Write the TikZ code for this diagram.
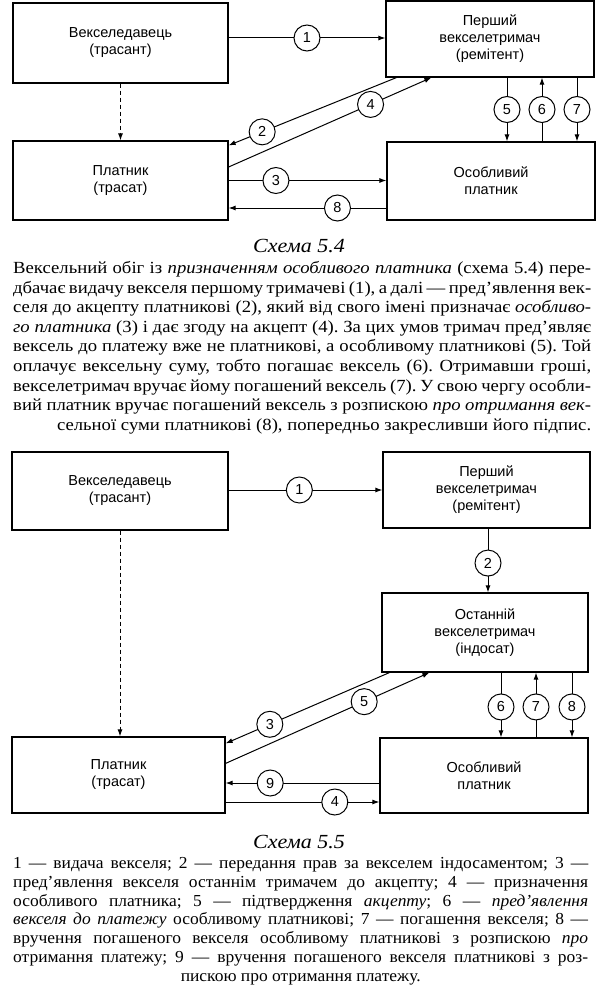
\documentclass[tikz,border=0pt]{standalone}
\usepackage{fontspec}
\setmainfont{Liberation Serif}
\setsansfont{Liberation Sans}
\newfontfamily\bodyfont[FakeStretch=1.1]{Liberation Serif}
\newfontfamily\notefont[FakeStretch=1.04]{Liberation Serif}
\usetikzlibrary{arrows.meta}

\begin{document}
\begin{tikzpicture}[x=1pt,y=-1pt,
    box/.style={draw,line width=1.2pt,align=center,inner sep=0pt,
      font=\sffamily\fontsize{14.5}{17}\selectfont},
    num/.style={draw,circle,fill=white,line width=1pt,minimum size=26pt,
      inner sep=0pt,font=\sffamily\fontsize{14.5}{14.5}\selectfont},
    arr/.style={line width=1pt,-{Latex[length=7pt,width=5pt]}},
    capt/.style={font=\bodyfont\itshape\fontsize{20}{20}\selectfont},
    txt/.style={anchor=base west,inner sep=0pt,text width=578pt,align=justify,
      font=\bodyfont\fontsize{17}{19.6}\selectfont\frenchspacing}]
  \useasboundingbox[fill=white] (0,0) rectangle (598,990);

  % Схема 5.4
  \node[box,minimum width=215pt,minimum height=80pt] (drawerA) at (120.5,43) {Векселедавець\\(трасант)};
  \node[box,minimum width=215pt,minimum height=79pt] (payerA) at (120.5,180.5) {Платник\\(трасат)};
  \node[box,minimum width=208pt,minimum height=76pt] (firstA) at (490,39) {Перший\\векселетримач\\(ремітент)};
  \node[box,minimum width=208pt,minimum height=78pt] (specialA) at (491,181) {Особливий\\платник};

  \draw[arr,dash pattern=on 4pt off 3pt] (drawerA.south) -- (drawerA.south |- payerA.north);
  \draw[arr] ([yshift=5pt]drawerA.east) -- node[num,pos=0.5] {1} ([yshift=5pt]drawerA.east -| firstA.west);
  \draw[arr] ([xshift=11pt]firstA.south west) -- node[num,pos=0.8] {2} ([yshift=-5pt]payerA.north east);
  \draw[arr] (payerA.east) -- node[num,pos=0.3] {3} (payerA.east -| specialA.west);
  \draw[arr] ([yshift=13.5pt]payerA.east) -- node[num,pos=0.7] {4} ([xshift=46pt]firstA.south west);
  \draw[arr] ([xshift=17pt]firstA.south) -- node[num] {5} ([xshift=17pt]firstA.south |- specialA.north);
  \draw[arr] ([xshift=52pt]firstA.south |- specialA.north) -- node[num] {6} ([xshift=52pt]firstA.south);
  \draw[arr] ([xshift=87pt]firstA.south) -- node[num] {7} ([xshift=87pt]firstA.south |- specialA.north);
  \draw[arr] ([yshift=-27pt]specialA.west) -- node[num,pos=0.31] {8} ([yshift=-27pt]specialA.west -| payerA.east);

  \node[capt] (captA) at (299,246) {Схема 5.4};
  \node[txt] (textA) at (13,273.5) {Вексельний обіг із \textit{призначенням особливого платника} (схема 5.4) пере-\linebreak
    дбачає видачу векселя першому тримачеві (1), а далі — пред’явлення век-\linebreak
    селя до акцепту платникові (2), який від свого імені призначає \textit{особливо-\linebreak
    го платника} (3) і дає згоду на акцепт (4). За цих умов тримач пред’являє\linebreak
    вексель до платежу вже не платникові, а особливому платникові (5). Той\linebreak
    оплачує вексельну суму, тобто погашає вексель (6). Отримавши гроші,\linebreak
    векселетримач вручає йому погашений вексель (7). У свою чергу особли-\linebreak
    вий платник вручає погашений вексель з розпискою \textit{про отримання век-}\linebreak
    \hspace*{\fill}сельної суми платникові (8), попередньо закресливши його підпис.};

  % Схема 5.5
  \node[box,minimum width=216pt,minimum height=78pt] (drawerB) at (120,491) {Векселедавець\\(трасант)};
  \node[box,minimum width=207pt,minimum height=76pt] (firstB) at (486.5,490) {Перший\\векселетримач\\(ремітент)};
  \node[box,minimum width=206pt,minimum height=79pt] (lastB) at (485,632.5) {Останній\\векселетримач\\(індосат)};
  \node[box,minimum width=208pt,minimum height=75pt] (specialB) at (484,775.5) {Особливий\\платник};
  \node[box,minimum width=213pt,minimum height=76pt] (payerB) at (118.5,775) {Платник\\(трасат)};

  \draw[arr,dash pattern=on 4pt off 3pt] (drawerB.south) -- (drawerB.south |- payerB.north);
  \draw[arr] ([yshift=1pt]drawerB.east) -- node[num,pos=0.46] {1} ([yshift=1pt]drawerB.east -| firstB.west);
  \draw[arr] ([xshift=1.5pt]firstB.south) -- node[num,pos=0.54] {2} ([xshift=1.5pt]firstB.south |- lastB.north);
  \draw[arr] ([xshift=8pt]lastB.south west) -- node[num,pos=0.73] {3} ([yshift=-7pt]payerB.north east);
  \draw[arr] ([yshift=-27pt]payerB.east) -- node[num,pos=0.71] {4} ([yshift=-27pt]payerB.east -| specialB.west);
  \draw[arr] ([yshift=-27pt]payerB.north east) -- node[num,pos=0.68] {5} ([xshift=48pt]lastB.south west);
  \draw[arr] ([xshift=16pt]lastB.south) -- node[num,pos=0.53] {6} ([xshift=16pt]lastB.south |- specialB.north);
  \draw[arr] ([xshift=51pt]lastB.south |- specialB.north) -- node[num,pos=0.47] {7} ([xshift=51pt]lastB.south);
  \draw[arr] ([xshift=87pt]lastB.south) -- node[num,pos=0.53] {8} ([xshift=87pt]lastB.south |- specialB.north);
  \draw[arr] ([yshift=-7.5pt]specialB.west) -- node[num,pos=0.71] {9} ([yshift=-7.5pt]specialB.west -| payerB.east);

  \node[capt] (captB) at (299,842) {Схема 5.5};
  \node[txt,text width=575pt,font=\notefont\fontsize{16.8}{18.8}\selectfont\frenchspacing] (textB) at (13,868.5) {1 — видача векселя; 2 — передання прав за векселем індосаментом; 3~—\linebreak
    пред’явлення векселя останнім тримачем до акцепту; 4 — призначення\linebreak
    особливого платника; 5 — підтвердження \textit{акцепту}; 6 — \textit{пред’явлення}\linebreak
    \textit{векселя до платежу} особливому платникові; 7 — погашення векселя; 8~—\linebreak
    вручення погашеного векселя особливому платникові з розпискою \textit{про}\linebreak
    отримання платежу; 9 — вручення погашеного векселя платникові з роз-\linebreak
    \hspace*{\fill}пискою про отримання платежу.\hspace{\fill}\mbox{}};
\end{tikzpicture}
\end{document}
